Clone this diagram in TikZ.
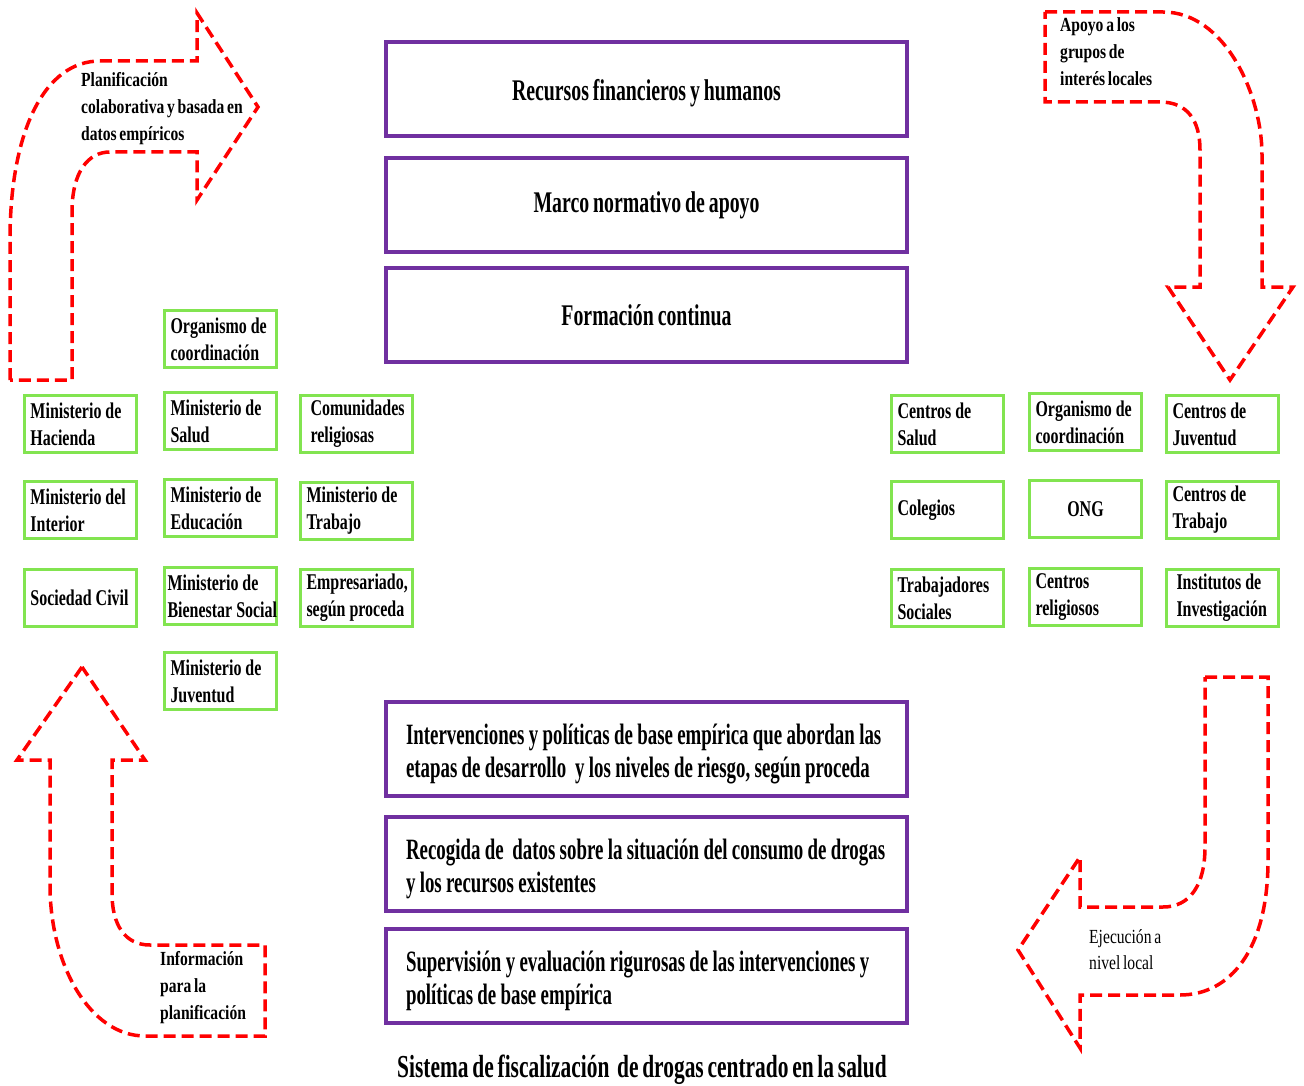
\documentclass[tikz,border=0pt]{standalone}
\usepackage{fontspec}
\setmainfont{Liberation Serif}
\newfontfamily\pfont{Liberation Serif}[FakeStretch=0.64,WordSpace=0.92]
\newfontfamily\tfont{Liberation Serif}[FakeStretch=0.66,WordSpace=0.8]
\newfontfamily\cfont{Liberation Serif}[FakeStretch=0.67,WordSpace=0.7]
\newfontfamily\gfont{Liberation Serif}[FakeStretch=0.71,WordSpace=1.0]
\newfontfamily\afont{Liberation Serif}[FakeStretch=0.78,WordSpace=0.7]
\definecolor{pur}{RGB}{112,48,160}
\definecolor{grn}{RGB}{130,228,80}
\definecolor{rd}{RGB}{255,0,0}
\begin{document}
\begin{tikzpicture}[x=1pt,y=-1pt,
  % keep the condensed fonts' own word spaces inside aligned nodes
  every node/.style={execute at begin node={\spaceskip=0pt\xspaceskip=0pt\relax}},
  pbox/.style={draw=pur,line width=4pt,minimum width=521pt,minimum height=94pt,anchor=north west,inner sep=0pt},
  pctr/.style={pbox,font=\tfont\fontsize{30}{33}\selectfont\bfseries,align=center},
  pleft/.style={pbox,font=\pfont\fontsize{29.5}{33}\selectfont\bfseries,text width=481pt,inner xsep=20pt,align=left},
  gbox/.style={draw=grn,line width=3pt,minimum height=57pt,text width=100pt,inner xsep=6pt,inner ysep=0pt,
    align=left,anchor=north west,font=\gfont\fontsize{22.5}{27}\selectfont\bfseries},
  darrow/.style={draw=rd,line width=3.5pt,dash pattern=on 12pt off 6pt,line join=miter},
  atext/.style={align=left,anchor=north west,inner sep=0pt,font=\afont\fontsize{20}{27}\selectfont\bfseries}]
\useasboundingbox (0,0) rectangle (1304,1086);

% central column of purple boxes
\node[pctr] (rec) at (384,40) {\rule{0pt}{30pt}Recursos financieros y humanos};
\node[pctr] (mar) at (384,156) {Marco normativo de apoyo};
\node[pctr] (for) at (384,266) {Formación continua};
\node[pleft] (int) at (384,700) {\rule{0pt}{30pt}\mbox{Intervenciones y políticas de base empírica que abordan las}\\\mbox{etapas de desarrollo\ \ y los niveles de riesgo, según proceda}};
\node[pleft] (rcg) at (384,815) {\rule{0pt}{30pt}\mbox{Recogida de\ \ datos sobre la situación del consumo de drogas}\\y los recursos existentes};
\node[pleft] (sup) at (384,927) {\rule{0pt}{30pt}\mbox{Supervisión y evaluación rigurosas de las intervenciones y}\\políticas de base empírica};
\node[font=\cfont\fontsize{32}{33}\selectfont\bfseries] (cap) at (642,1070) {Sistema de fiscalización\ \ de drogas centrado en la salud};

% national level actors
\node[gbox] (org1) at (163,309) {Organismo de\\coordinación};
\node[gbox] (hac) at (23,394) {Ministerio de\\Hacienda};
\node[gbox] (sal) at (163,391) {Ministerio de\\Salud};
\node[gbox,inner xsep=10pt,text width=92pt] (com) at (299,394) {\mbox{Comunidades}\\religiosas};
\node[gbox] (inr) at (23,480) {\mbox{Ministerio del}\\Interior};
\node[gbox] (edu) at (163,478) {Ministerio de\\Educación};
\node[gbox] (tra) at (299,481) {Ministerio de\\Trabajo};
\node[gbox] (soc) at (23,568) {\mbox{Sociedad Civil}};
\node[gbox,inner xsep=3pt,text width=106pt] (bie) at (163,566) {Ministerio de\\\mbox{Bienestar Social}};
\node[gbox] (emp) at (299,568) {\mbox{Empresariado,}\\\mbox{según proceda}};
\node[gbox] (juv) at (163,651) {Ministerio de\\Juventud};

% local level actors
\node[gbox] (csal) at (890,394) {Centros de\\Salud};
\node[gbox] (org2) at (1028,392) {\mbox{Organismo de}\\coordinación};
\node[gbox] (cjuv) at (1165,394) {Centros de\\Juventud};
\node[gbox] (col) at (890,480) {Colegios};
\node[gbox,align=center] (ong) at (1028,479) {ONG};
\node[gbox] (ctra) at (1165,480) {Centros de\\Trabajo};
\node[gbox] (tsoc) at (890,568) {\mbox{Trabajadores}\\Sociales};
\node[gbox] (crel) at (1028,567) {Centros\\religiosos};
\node[gbox,inner xsep=10pt,text width=92pt] (inv) at (1165,568) {\mbox{Institutos de}\\\mbox{Investigación}};

% curved block arrows of the cycle
\draw[darrow] (10,380) -- (10,240) .. controls (10,130) and (45,61) .. (100,61) -- (197,61) -- (197,13)
  -- (258,107) -- (197,200) -- (197,152) -- (110,152) .. controls (88,152) and (72,172) .. (72,212) -- (72,380) -- cycle;
\node[atext] (tl) at (81,72) {Planificación\\colaborativa y basada en\\datos empíricos};

\draw[darrow] (1045,12) -- (1163,12) .. controls (1225,12) and (1262,95) .. (1262,155) -- (1262,287) -- (1293,287)
  -- (1230,380) -- (1168,287) -- (1200,287) -- (1200,150) .. controls (1200,120) and (1187,102) .. (1160,102) -- (1045,102) -- cycle;
\node[atext] (tr) at (1060,17) {Apoyo a los\\grupos de\\interés locales};

\draw[darrow] (82,667) -- (17,760) -- (50,760) -- (50,885) .. controls (50,965) and (90,1036) .. (145,1036) -- (265,1036)
  -- (265,945) -- (150,945) .. controls (125,945) and (112,925) .. (112,893) -- (112,760) -- (145,760) -- cycle;
\node[atext] (bl) at (160,951) {Información\\para la\\planificación};

\draw[darrow] (1205,677) -- (1268,677) -- (1268,860) .. controls (1268,950) and (1230,995) .. (1180,995) -- (1080,995)
  -- (1080,1048) -- (1018,950) -- (1080,857) -- (1080,907) -- (1163,907) .. controls (1190,907) and (1205,885) .. (1205,847) -- cycle;
\node[atext,font=\afont\fontsize{20}{26}\selectfont] (br) at (1089,929) {Ejecución a\\nivel local};
\end{tikzpicture}
\end{document}
